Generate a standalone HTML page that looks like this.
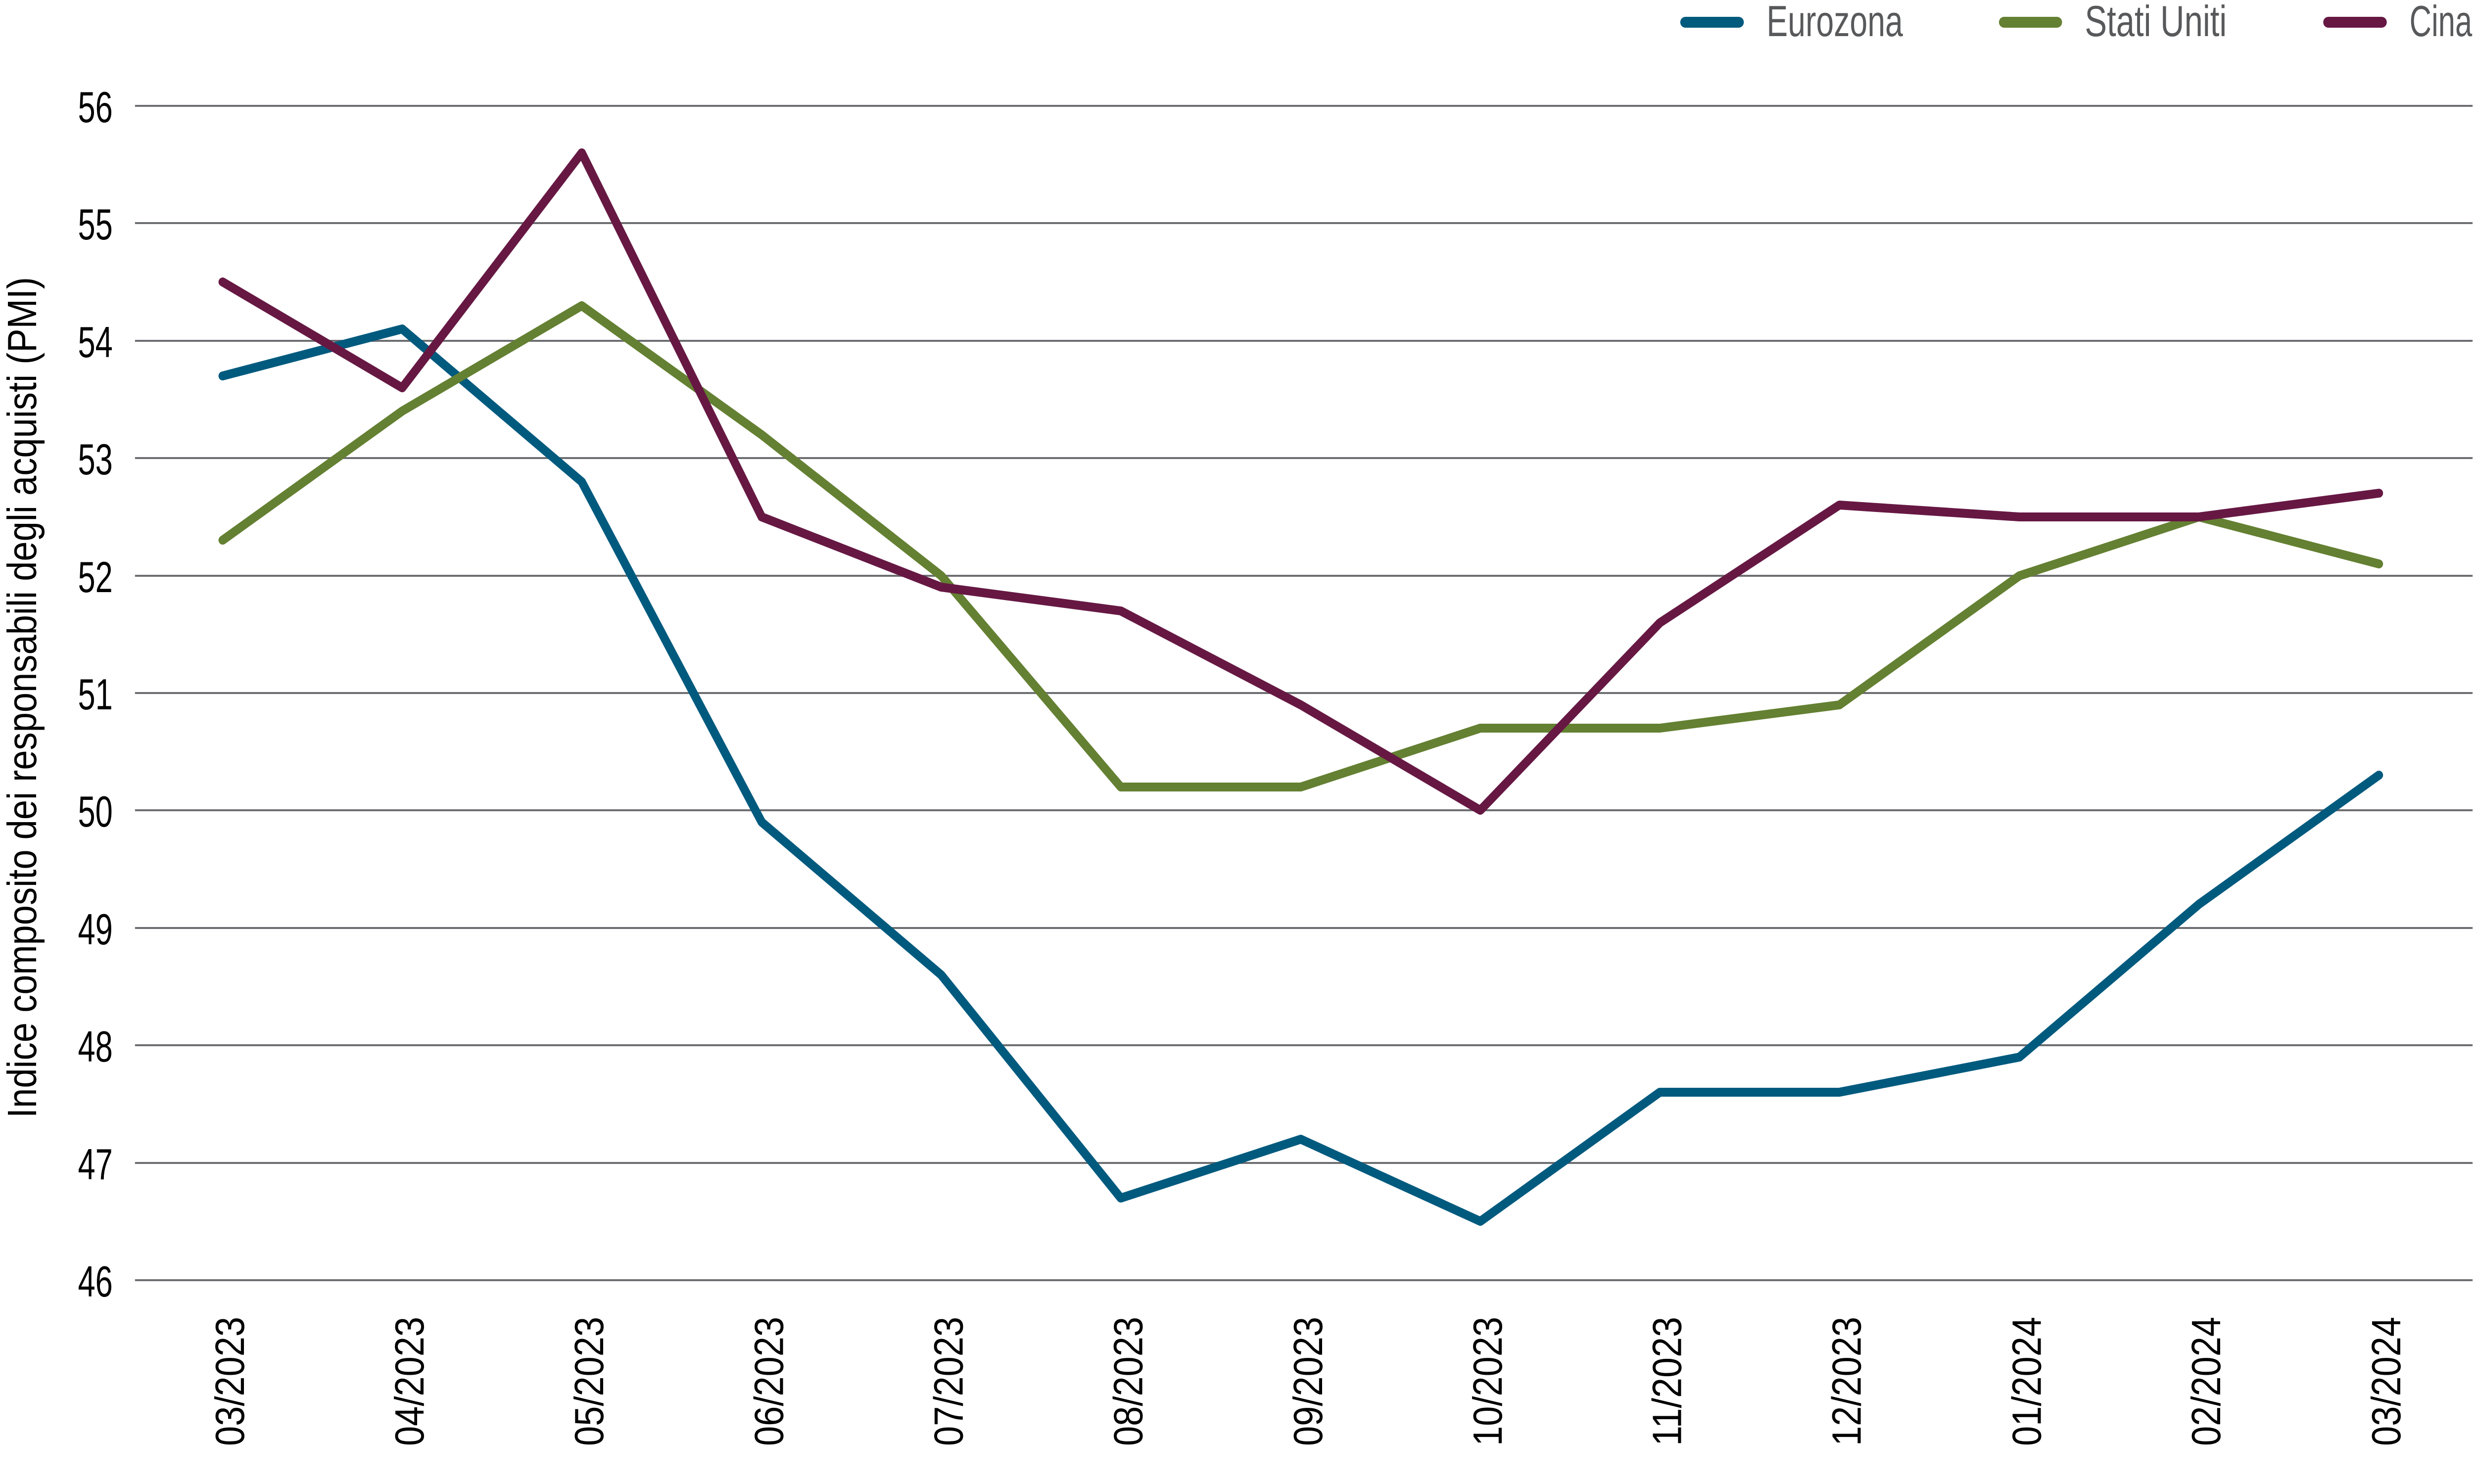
<!DOCTYPE html>
<html><head><meta charset="utf-8"><style>
html,body{margin:0;padding:0;background:#fff;width:100%;height:100%;overflow:hidden;}
svg{display:block;position:fixed;left:0;top:0;width:100vw;height:100vh;}
text{font-family:"Liberation Sans",sans-serif;}
</style></head><body>
<svg viewBox="0 0 5333 3000" preserveAspectRatio="none" xmlns="http://www.w3.org/2000/svg">
<g stroke="#6d6e71" stroke-width="4">
<line x1="291" x2="5330" y1="214" y2="214"/>
<line x1="291" x2="5330" y1="451" y2="451"/>
<line x1="291" x2="5330" y1="689" y2="689"/>
<line x1="291" x2="5330" y1="926" y2="926"/>
<line x1="291" x2="5330" y1="1164" y2="1164"/>
<line x1="291" x2="5330" y1="1401" y2="1401"/>
<line x1="291" x2="5330" y1="1638" y2="1638"/>
<line x1="291" x2="5330" y1="1876" y2="1876"/>
<line x1="291" x2="5330" y1="2113" y2="2113"/>
<line x1="291" x2="5330" y1="2351" y2="2351"/>
<line x1="291" x2="5330" y1="2588" y2="2588"/>
</g>
<g font-size="88" text-anchor="end" fill="#000">
<text x="243" y="247" textLength="75" lengthAdjust="spacingAndGlyphs">56</text>
<text x="243" y="484" textLength="75" lengthAdjust="spacingAndGlyphs">55</text>
<text x="243" y="722" textLength="75" lengthAdjust="spacingAndGlyphs">54</text>
<text x="243" y="959" textLength="75" lengthAdjust="spacingAndGlyphs">53</text>
<text x="243" y="1197" textLength="75" lengthAdjust="spacingAndGlyphs">52</text>
<text x="243" y="1434" textLength="75" lengthAdjust="spacingAndGlyphs">51</text>
<text x="243" y="1671" textLength="75" lengthAdjust="spacingAndGlyphs">50</text>
<text x="243" y="1909" textLength="75" lengthAdjust="spacingAndGlyphs">49</text>
<text x="243" y="2146" textLength="75" lengthAdjust="spacingAndGlyphs">48</text>
<text x="243" y="2384" textLength="75" lengthAdjust="spacingAndGlyphs">47</text>
<text x="243" y="2621" textLength="75" lengthAdjust="spacingAndGlyphs">46</text>
</g>
<text transform="translate(78,1410) rotate(-90)" font-size="88" text-anchor="middle" textLength="1700" lengthAdjust="spacingAndGlyphs" fill="#000">Indice composito dei responsabili degli acquisti (PMI)</text>
<g font-size="88" text-anchor="end" fill="#000">
<text transform="translate(526,2662) rotate(-90)" textLength="261" lengthAdjust="spacingAndGlyphs">03/2023</text>
<text transform="translate(913,2662) rotate(-90)" textLength="261" lengthAdjust="spacingAndGlyphs">04/2023</text>
<text transform="translate(1300,2662) rotate(-90)" textLength="261" lengthAdjust="spacingAndGlyphs">05/2023</text>
<text transform="translate(1688,2662) rotate(-90)" textLength="261" lengthAdjust="spacingAndGlyphs">06/2023</text>
<text transform="translate(2075,2662) rotate(-90)" textLength="261" lengthAdjust="spacingAndGlyphs">07/2023</text>
<text transform="translate(2462,2662) rotate(-90)" textLength="261" lengthAdjust="spacingAndGlyphs">08/2023</text>
<text transform="translate(2850,2662) rotate(-90)" textLength="261" lengthAdjust="spacingAndGlyphs">09/2023</text>
<text transform="translate(3237,2662) rotate(-90)" textLength="261" lengthAdjust="spacingAndGlyphs">10/2023</text>
<text transform="translate(3624,2662) rotate(-90)" textLength="261" lengthAdjust="spacingAndGlyphs">11/2023</text>
<text transform="translate(4011,2662) rotate(-90)" textLength="261" lengthAdjust="spacingAndGlyphs">12/2023</text>
<text transform="translate(4399,2662) rotate(-90)" textLength="261" lengthAdjust="spacingAndGlyphs">01/2024</text>
<text transform="translate(4786,2662) rotate(-90)" textLength="261" lengthAdjust="spacingAndGlyphs">02/2024</text>
<text transform="translate(5174,2662) rotate(-90)" textLength="261" lengthAdjust="spacingAndGlyphs">03/2024</text>
</g>
<g fill="none" stroke-width="18" stroke-linejoin="round" stroke-linecap="round">
<polyline stroke="#005A7E" points="480,760 867,665 1254,974 1642,1662 2029,1971 2416,2422 2804,2303 3191,2469 3578,2208 3965,2208 4353,2137 4740,1828 5128,1567"/>
<polyline stroke="#648032" points="480,1092 867,831 1254,618 1642,879 2029,1164 2416,1591 2804,1591 3191,1472 3578,1472 3965,1425 4353,1164 4740,1045 5128,1140"/>
<polyline stroke="#661843" points="480,570 867,784 1254,309 1642,1045 2029,1187 2416,1235 2804,1425 3191,1638 3578,1259 3965,1021 4353,1045 4740,1045 5128,997"/>
</g>
<g>
<rect x="3622" y="34" width="137" height="22" rx="11" fill="#005A7E"/>
<rect x="4309" y="34" width="136" height="22" rx="11" fill="#648032"/>
<rect x="5008" y="34" width="137" height="22" rx="11" fill="#661843"/>
</g>
<g font-size="88" fill="#58595b">
<text x="3808" y="73" textLength="294" lengthAdjust="spacingAndGlyphs">Eurozona</text>
<text x="4494" y="73" textLength="306" lengthAdjust="spacingAndGlyphs">Stati Uniti</text>
<text x="5194" y="73" textLength="135" lengthAdjust="spacingAndGlyphs">Cina</text>
</g>
</svg>
</body></html>
